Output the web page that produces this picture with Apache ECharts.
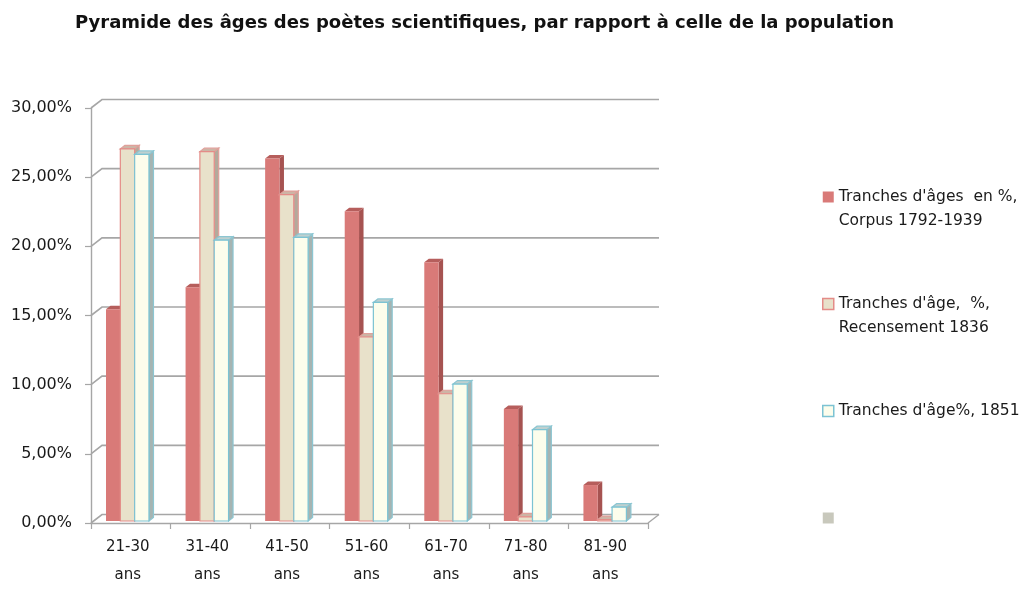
<!DOCTYPE html>
<html><head><meta charset="utf-8">
<script src="https://cdn.jsdelivr.net/npm/echarts@6/dist/echarts.min.js"></script>
<style>html,body{margin:0;padding:0;background:#fff}#c{width:1031px;height:589px}</style>
</head><body><div id="c"></div>
<script>
// ---- data ----
const titleText = "Pyramide des âges des poètes scientifiques, par rapport à celle de la population";
const categories = ['21-30 ans','31-40 ans','41-50 ans','51-60 ans','61-70 ans','71-80 ans','81-90 ans'];
const corpus = [15.3, 16.9, 26.2, 22.4, 18.7, 8.1, 2.6];
const recensement1836 = [26.9, 26.7, 23.6, 13.3, 9.2, 0.3, 0.1];
const recensement1851 = [26.5, 20.3, 20.5, 15.8, 9.9, 6.6, 1.0];
const yTicks = [0, 5, 10, 15, 20, 25, 30];
const seriesNames = ["Tranches d'âges  en %, Corpus 1792-1939", "Tranches d'âge,  %, Recensement 1836", "Tranches d'âge%, 1851", " "];
const legendLines = [["Tranches d'âges  en %,", "Corpus 1792-1939"], ["Tranches d'âge,  %,", "Recensement 1836"], ["Tranches d'âge%, 1851", ""], [" ", ""]];

// ---- styles ----
const FONT = 'DejaVu Sans';
const DX = 11, DY = -8.5;
const styles = [
  {front:'#D97A78', side:'#A65351', top:'#B65E5C', stroke:null, sideStroke:null, lw:0},
  {front:'#E8E1CA', side:'#B3AA9C', top:'#CDB5A6', stroke:'#E48C88', sideStroke:'#E0A09A', lw:1.2},
  {front:'#FCFDEC', side:'#A6B4B2', top:'#BFD0CF', stroke:'#7CC3D3', sideStroke:'#8CC6D2', lw:1.2}
];

const chart = echarts.init(document.getElementById('c'), null, {renderer:'canvas'});

function barSeries(idx, values) {
  const st = styles[idx];
  return {
    type:'custom', name: seriesNames[idx], z: 3,
    data: values.map((v, i) => [i, v]),
    encode: {x: 0, y: 1},
    itemStyle: {color: st.front},
    renderItem(params, api) {
      const ci = api.value(0), v = api.value(1);
      const b = api.coord([ci, 0]);
      const t = api.coord([ci, v]);
      const band = api.size([1, 0])[0];
      const w = band * 0.18;
      const L = b[0] - 1.5 * w - 3.3 + idx * w, R = L + w;
      const B = b[1] - 2, T = t[1] - 2;
      const dx = 4.5, dy = -3.5;
      const s = st.stroke ? {stroke: st.sideStroke, lineWidth: st.lw} : {};
      const f = st.stroke ? {stroke: st.stroke, lineWidth: st.lw} : {};
      return {type:'group', children:[
        {type:'polygon', shape:{points:[[R,T],[R,B],[R+dx,B+dy],[R+dx,T+dy]]}, style:Object.assign({fill:st.side}, s)},
        {type:'polygon', shape:{points:[[L,T],[R,T],[R+dx,T+dy],[L+dx,T+dy]]}, style:Object.assign({fill:st.top}, s)},
        {type:'rect', shape:{x:L, y:T, width:w, height:B-T}, style:Object.assign({fill:st.front}, f)}
      ]};
    }
  };
}

const frameSeries = {
  type:'custom', name:'frame', z: 1, silent: true,
  data: yTicks.map(v => [0, v]),
  encode: {x: 0, y: 1},
  renderItem(params, api) {
    const cs = params.coordSys;
    const x0 = cs.x, x1 = cs.x + cs.width;
    const y = api.coord([0, api.value(1)])[1];
    const children = [
      {type:'polyline', shape:{points:[[x0, y], [x0+DX, y+DY], [x1+DX, y+DY]]}, style:{stroke:'#A6A6A6', lineWidth:1.6, fill:null}}
    ];
    if (api.value(1) === 0) {
      children.push({type:'line', shape:{x1:x1, y1:y, x2:x1+DX, y2:y+DY}, style:{stroke:'#A6A6A6', lineWidth:1.4}});
    }
    return {type:'group', children};
  }
};

const legendMap = {};
seriesNames.forEach((n, i) => { legendMap[n] = '\n' + legendLines[i][0] + '\n' + legendLines[i][1]; });

chart.setOption({
  animation: false,
  title: {
    text: titleText, left: 70, top: 9,
    textStyle: {fontFamily: FONT, fontWeight: 'bold', fontSize: 18, color: '#111'}
  },
  legend: {
    orient: 'vertical', left: 822, top: 161, padding: 0,
    itemWidth: 11, itemHeight: 11, itemGap: 35, selectedMode: false,
    formatter: name => legendMap[name],
    textStyle: {fontFamily: FONT, fontSize: 15.5, lineHeight: 24, color: '#1a1a1a'},
    data: [
      {name: seriesNames[0], icon:'rect', itemStyle:{color:'#D97A78', borderWidth:0}},
      {name: seriesNames[1], icon:'rect', itemStyle:{color:'#E8E1CA', borderColor:'#E48C88', borderWidth:1.5}},
      {name: seriesNames[2], icon:'rect', itemStyle:{color:'#FCFDEC', borderColor:'#7CC3D3', borderWidth:1.5}},
      {name: seriesNames[3], icon:'rect', itemStyle:{color:'#C8C8BC', borderWidth:0}}
    ]
  },
  grid: {left: 91, right: 383, top: 108, bottom: 65},
  xAxis: {
    type: 'category', data: categories,
    axisLine: {show: true, lineStyle: {color: '#A6A6A6', width: 1.4}},
    axisTick: {show: true, length: 6, lineStyle: {color: '#A6A6A6', width: 1.2}},
    axisLabel: {
      margin: 10, fontFamily: FONT, fontSize: 15, lineHeight: 28, color: '#1a1a1a',
      padding: [0, 6, 0, 0],
      formatter: v => v.replace(' ', '\n')
    },
    splitLine: {show: false}
  },
  yAxis: {
    type: 'value', min: 0, max: 30, interval: 5,
    axisLine: {show: true, lineStyle: {color: '#A6A6A6', width: 1.4}},
    axisTick: {show: true, length: 6, lineStyle: {color: '#A6A6A6', width: 1.2}},
    axisLabel: {
      margin: 19, fontFamily: FONT, fontSize: 16, color: '#1a1a1a',
      formatter: v => v.toFixed(2).replace('.', ',') + '%'
    },
    splitLine: {show: false}
  },
  series: [
    frameSeries,
    barSeries(0, corpus),
    barSeries(1, recensement1836),
    barSeries(2, recensement1851),
    {type:'custom', name: seriesNames[3], data: [], renderItem: () => null, itemStyle:{color:'#C8C8BC'}}
  ]
});
</script>
</body></html>
